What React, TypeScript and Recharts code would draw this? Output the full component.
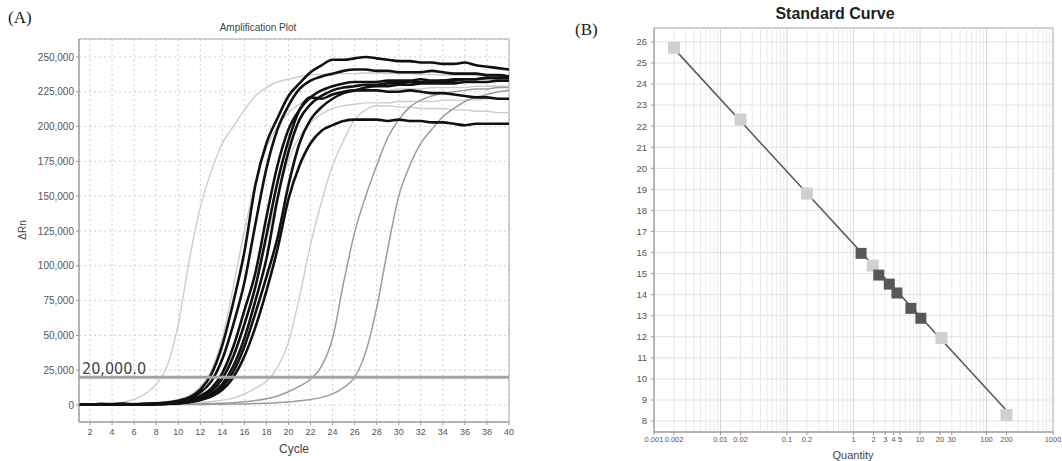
import {
  LineChart, Line, XAxis, YAxis, CartesianGrid, ReferenceLine, ReferenceArea,
  ScatterChart, Scatter,
} from "recharts";

// ---- (A) Amplification plot, ΔRn in thousands ----
const cycles = [1, 2, 3, 4, 5, 6, 7, 8, 9, 10, 11, 12, 13, 14, 15, 16, 17, 18, 19, 20,
  21, 22, 23, 24, 25, 26, 27, 28, 29, 30, 31, 32, 33, 34, 35, 36, 37, 38, 39, 40];

const g1 = [0, 0.2, 0.5, 1, 2, 4, 8, 15, 28, 58, 104, 142, 168, 188, 200, 212, 222, 228, 232, 234,
  236, 237, 237.5, 238, 238, 238, 238.5, 238.5, 238, 238, 238, 237.5, 237.5, 237, 237, 237, 236.5, 236.5, 236, 236];
const g2 = [0, 0.3, 0.5, 0.6, 0.8, 1, 1.3, 1.8, 2.5, 4, 7, 13, 25, 48, 85, 125, 160, 185, 200, 210,
  216, 220, 222, 224, 225, 225, 226, 226, 226, 227, 227, 227, 228, 228, 228, 228, 229, 229, 229, 229];
const g3 = [0, 0.2, 0.4, 0.3, 0.5, 0.6, 0.8, 1, 1.4, 2, 3.5, 6, 11, 20, 36, 58, 85, 118, 150, 176,
  193, 203, 209, 213, 215, 216, 217, 217, 217, 218, 218, 218, 218, 219, 219, 219, 219, 220, 220, 220];
const g4 = [0, 0.1, 0.2, 0.3, 0.3, 0.4, 0.5, 0.6, 0.8, 1, 1.3, 1.8, 2.5, 3.5, 5, 8, 12, 17, 27, 45,
  78, 115, 146, 172, 190, 205, 212, 215, 215, 214, 214, 213, 213, 213, 212, 212, 211, 211, 210, 210];
const g5 = [0, 0, 0.1, 0.1, 0.2, 0.2, 0.3, 0.3, 0.4, 0.5, 0.6, 0.8, 1, 1.3, 1.7, 2.3, 3.2, 4.5, 6.5, 9.5,
  13.5, 18.5, 28, 48, 88, 124, 150, 172, 192, 205, 214, 219, 222, 224, 225, 226, 227, 227, 228, 228];
const g6 = [0, 0, 0.1, 0.1, 0.1, 0.2, 0.2, 0.2, 0.3, 0.3, 0.4, 0.4, 0.5, 0.6, 0.7, 0.8, 1, 1.3, 1.7, 2.2,
  3, 4, 5.5, 8, 12.5, 20, 38, 70, 112, 150, 172, 188, 198, 207, 213, 218, 221, 223, 225, 226];

const k1 = [0.5, 0.3, 0.8, 0.6, 0.9, 0.4, 0.8, 1.2, 1.8, 3, 5.5, 11, 22, 43, 74, 110, 158, 188, 206, 222,
  231, 239, 244, 248, 248, 249, 250, 249, 248, 247, 247, 246, 246, 245, 245, 246, 244, 243, 242, 241];
const k2 = [0.2, 0.5, 0.3, 0.7, 0.5, 0.6, 0.9, 1, 1.5, 2.5, 4.5, 9, 17, 33, 58, 88, 130, 170, 198, 215,
  227, 233, 236, 238, 240, 241, 241, 240, 240, 239, 239, 239, 240, 239, 238, 238, 238, 237, 237, 236];
const k3 = [0.4, 0.6, 0.2, 0.5, 0.8, 0.3, 0.6, 1, 1.3, 2, 3.5, 6.5, 12, 23, 42, 68, 95, 135, 172, 198,
  212, 221, 226, 229, 231, 232, 232, 232, 233, 233, 233, 234, 233, 233, 234, 234, 234, 235, 235, 235];
const k4 = [0.3, 0.2, 0.6, 0.4, 0.3, 0.7, 0.5, 0.8, 1.2, 1.8, 3, 5.5, 10, 19, 35, 58, 85, 122, 160, 190,
  212, 221, 220, 223, 225, 226, 226, 226, 225, 225, 226, 225, 224, 224, 223, 222, 221, 221, 220, 220];
const k5 = [0.6, 0.4, 0.5, 0.3, 0.6, 0.5, 0.4, 0.7, 1, 1.5, 2.5, 4.5, 8, 15, 28, 48, 75, 105, 148, 182,
  205, 216, 222, 226, 228, 229, 230, 230, 231, 231, 232, 232, 232, 233, 233, 234, 234, 235, 235, 236];
const k6 = [0.3, 0.5, 0.4, 0.2, 0.5, 0.6, 0.3, 0.5, 0.8, 1.2, 2, 3.5, 6, 11, 20, 35, 56, 82, 112, 148,
  172, 188, 197, 201, 204, 205, 205, 205, 204, 205, 204, 204, 203, 203, 202, 201, 202, 202, 202, 202];
const k7 = [0.2, 0.4, 0.6, 0.5, 0.4, 0.2, 0.6, 0.6, 0.9, 1.3, 2.2, 4, 7, 13, 24, 42, 66, 92, 120, 158,
  188, 205, 214, 220, 224, 226, 228, 229, 229, 230, 230, 231, 231, 231, 231, 232, 232, 232, 233, 233];

const thresholdA = 20;
const xTicksA = [2, 4, 6, 8, 10, 12, 14, 16, 18, 20, 22, 24, 26, 28, 30, 32, 34, 36, 38, 40];
const yTicksA = [0, 25, 50, 75, 100, 125, 150, 175, 200, 225, 250];
const xDomainA: [number, number] = [1, 40];
const yDomainA: [number, number] = [-12.2, 262.9];

const rowsA = cycles.map((c, i) => ({
  cycle: c,
  g1: g1[i], g2: g2[i], g3: g3[i], g4: g4[i], g5: g5[i], g6: g6[i],
  k1: k1[i], k2: k2[i], k3: k3[i], k4: k4[i], k5: k5[i], k6: k6[i], k7: k7[i],
}));

const lightKeys = ["g1", "g2", "g3", "g4"];
const midKeys = ["g5", "g6"];
const blackKeys = ["k1", "k2", "k3", "k4", "k5", "k6", "k7"];

// ---- (B) Standard curve ----
const stdLight = [
  { q: 0.002, ct: 25.72 },
  { q: 0.02, ct: 22.32 },
  { q: 0.2, ct: 18.8 },
  { q: 1.95, ct: 15.38 },
  { q: 21, ct: 11.94 },
  { q: 200, ct: 8.29 },
];
const stdDark = [
  { q: 1.3, ct: 15.96 },
  { q: 2.4, ct: 14.93 },
  { q: 3.45, ct: 14.5 },
  { q: 4.5, ct: 14.08 },
  { q: 7.3, ct: 13.35 },
  { q: 10.3, ct: 12.88 },
];
const fitLine = [
  { q: 0.002, ct: 25.68 },
  { q: 200, ct: 8.5 },
];
const xTicksB = [0.001, 0.002, 0.01, 0.02, 0.1, 0.2, 1, 2, 3, 4, 5, 10, 20, 30, 100, 200, 1000];
const yTicksB = [8, 9, 10, 11, 12, 13, 14, 15, 16, 17, 18, 19, 20, 21, 22, 23, 24, 25, 26];
const xDomainB: [number, number] = [0.001, 1000];
const yDomainB: [number, number] = [7.48, 26.66];
const decades = [0.001, 0.01, 0.1, 1, 10, 100];
const minorMultipliers = [2, 3, 4, 5, 6, 7, 8, 9];

const sans = "'Liberation Sans', Arial, sans-serif";
const serif = "'Liberation Serif', 'Times New Roman', serif";

const fmtThousands = (v: number) => (v * 1000).toLocaleString("en-US");

function makeSquare(fill: string, side: number) {
  return (props: any) => {
    const { cx, cy } = props;
    if (cx == null || cy == null) return <g />;
    return <rect x={cx - side / 2} y={cy - side / 2} width={side} height={side} fill={fill} />;
  };
}

function AmplificationPlot() {
  return (
    <LineChart width={520} height={461} data={rowsA} margin={{ top: 39, right: 11, bottom: 0, left: 0 }}>
      <CartesianGrid stroke="#cfcfcf" strokeDasharray="2 3" />
      <XAxis
        dataKey="cycle" type="number" domain={xDomainA} ticks={xTicksA} allowDataOverflow interval={0}
        height={39} tickSize={3} tickMargin={4}
        tick={{ fontSize: 9, fill: "#555", fontFamily: sans }}
        axisLine={{ stroke: "#999" }} tickLine={{ stroke: "#999" }}
      />
      <YAxis
        type="number" domain={yDomainA} ticks={yTicksA} allowDataOverflow interval={0}
        width={79} tickSize={3} tickMargin={2} tickFormatter={fmtThousands}
        tick={{ fontSize: 10, fill: "#555", fontFamily: sans }}
        axisLine={{ stroke: "#999" }} tickLine={{ stroke: "#999" }}
      />
      <ReferenceArea x1={xDomainA[0]} x2={xDomainA[1]} y1={yDomainA[0]} y2={yDomainA[1]} fill="none" stroke="#a8a8a8" />
      {lightKeys.map((k) => (
        <Line key={k} dataKey={k} type="monotone" stroke="#cdcdcd" strokeWidth={1.4} dot={false} isAnimationActive={false} />
      ))}
      {midKeys.map((k) => (
        <Line key={k} dataKey={k} type="monotone" stroke="#9c9c9c" strokeWidth={1.5} dot={false} isAnimationActive={false} />
      ))}
      {blackKeys.map((k) => (
        <Line key={k} dataKey={k} type="monotone" stroke="#111" strokeWidth={2.6} dot={false} isAnimationActive={false} />
      ))}
      <ReferenceLine
        y={thresholdA} stroke="#a4a4a4" strokeWidth={3}
        label={{ value: "20,000.0", position: "insideBottomLeft", offset: 3, fontSize: 16, fill: "#444", fontFamily: "'DejaVu Sans Condensed', 'Liberation Sans Narrow', sans-serif" }}
      />
    </LineChart>
  );
}

function StandardCurve() {
  return (
    <ScatterChart width={502} height={461} margin={{ top: 28, right: 9, bottom: 0, left: 0 }}>
      <CartesianGrid stroke="#e2e2e2" vertical={false} />
      <XAxis
        dataKey="q" type="number" scale="log" domain={xDomainB} ticks={xTicksB} allowDataOverflow interval={0}
        height={29} tickSize={3} tickMargin={2}
        tick={{ fontSize: 7.5, fill: "#555", fontFamily: sans }}
        axisLine={{ stroke: "#999" }} tickLine={{ stroke: "#999" }}
      />
      <YAxis
        dataKey="ct" type="number" domain={yDomainB} ticks={yTicksB} allowDataOverflow interval={0}
        width={94} tickSize={3} tickMargin={4}
        tick={{ fontSize: 9.5, fill: "#555", fontFamily: sans }}
        axisLine={{ stroke: "#999" }} tickLine={{ stroke: "#999" }}
      />
      {decades.map((d) => (
        <ReferenceLine key={"d" + d} x={d} stroke="#d6d6d6" />
      ))}
      {decades.flatMap((d) =>
        minorMultipliers.map((m) => <ReferenceLine key={"m" + d + "-" + m} x={d * m} stroke="#e9e9e9" />)
      )}
      <ReferenceArea x1={xDomainB[0]} x2={xDomainB[1]} y1={yDomainB[0]} y2={yDomainB[1]} fill="none" stroke="#aaa" />
      <Scatter data={fitLine} line={{ stroke: "#5a5a5a", strokeWidth: 1.6 }} shape={() => <g />} isAnimationActive={false} />
      <Scatter data={stdLight} shape={makeSquare("#d0d0d0", 12)} isAnimationActive={false} />
      <Scatter data={stdDark} shape={makeSquare("#585858", 11)} isAnimationActive={false} />
    </ScatterChart>
  );
}

export default function App() {
  return (
    <div style={{ position: "absolute", left: 0, top: 0, width: 1062, height: 461, background: "#fff", overflow: "hidden" }}>
      <div style={{ position: "absolute", left: 0, top: 0 }}>
        <AmplificationPlot />
      </div>
      <div style={{ position: "absolute", left: 560, top: 0 }}>
        <StandardCurve />
      </div>
      <div style={{ position: "absolute", left: 8, top: 8, fontFamily: serif, fontSize: 17, color: "#222" }}>(A)</div>
      <div style={{ position: "absolute", left: 575, top: 20, fontFamily: serif, fontSize: 17, color: "#222" }}>(B)</div>
      <div style={{ position: "absolute", left: 258, top: 27, transform: "translate(-50%, -50%)", fontFamily: sans, fontSize: 10, color: "#444", whiteSpace: "nowrap" }}>
        Amplification Plot
      </div>
      <div style={{ position: "absolute", left: 835, top: 14, transform: "translate(-50%, -50%)", fontFamily: sans, fontSize: 16, fontWeight: "bold", color: "#222", whiteSpace: "nowrap" }}>
        Standard Curve
      </div>
      <div style={{ position: "absolute", left: 294, top: 449, transform: "translate(-50%, -50%)", fontFamily: sans, fontSize: 12, color: "#444" }}>
        Cycle
      </div>
      <div style={{ position: "absolute", left: 22, top: 230, transform: "translate(-50%, -50%) rotate(-90deg)", fontFamily: sans, fontSize: 10, color: "#444" }}>
        ΔRn
      </div>
      <div style={{ position: "absolute", left: 853, top: 455, transform: "translate(-50%, -50%)", fontFamily: sans, fontSize: 11, color: "#444" }}>
        Quantity
      </div>
    </div>
  );
}
